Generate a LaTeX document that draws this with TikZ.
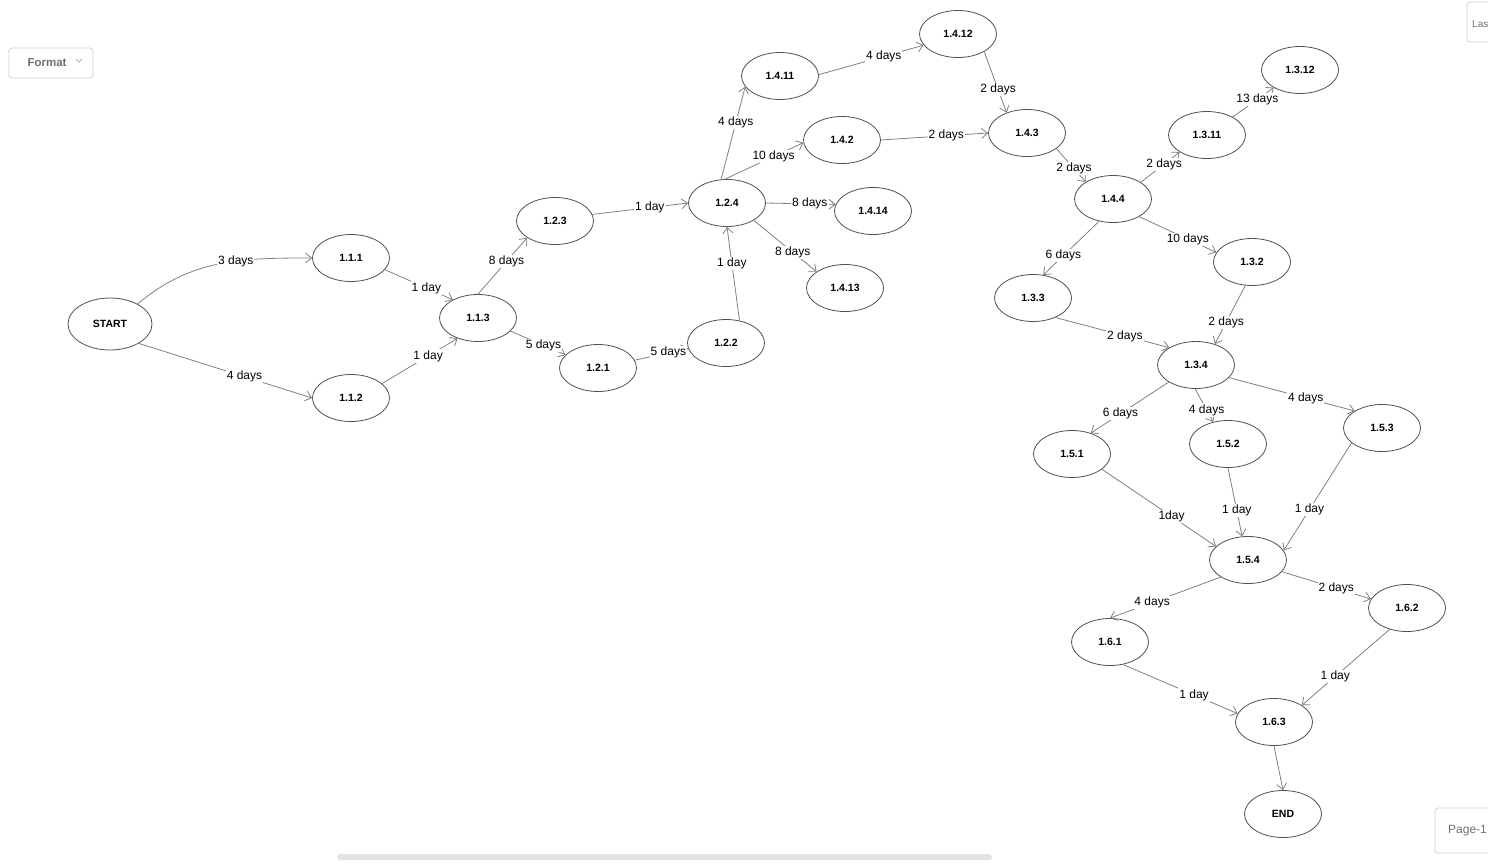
\documentclass[tikz,border=0pt]{standalone}
\usepackage{fontspec}
\setmainfont{Liberation Sans}
\usetikzlibrary{arrows.meta,shapes.geometric}
\definecolor{linkgray}{RGB}{128,128,128}
\definecolor{rimgray}{RGB}{80,80,80}
\definecolor{uigray}{RGB}{208,208,208}
\definecolor{uitext}{RGB}{112,112,112}
\definecolor{barfill}{RGB}{227,227,227}
\tikzset{
  task_/.style = {shape=ellipse, draw=rimgray, fill=white, line width=0.8pt,
                  minimum width=77pt, minimum height=47pt, inner sep=0pt,
                  font=\fontsize{10.5}{12}\selectfont\bfseries},
  term_/.style = {task_, minimum width=84pt, minimum height=52pt},
  link_/.style = {draw=linkgray, line width=0.8pt,
                  -{Straight Barb[length=6pt,width=10pt]}},
  lbl_/.style  = {fill=white, inner sep=1pt, text=black,
                  font=\fontsize{12}{14}\selectfont},
  ui_/.style   = {draw=uigray, fill=white, rounded corners=3pt, line width=0.8pt}
}

\begin{document}
\begin{tikzpicture}
  [
    x = 1pt,
    y = -1pt
  ]
  \useasboundingbox (0,0) rectangle (1488,863);

  \node [ui_, minimum width=84pt, minimum height=30pt] (fmt) at (51,63) {};
  \node [text=uitext, font=\fontsize{11.5}{13}\selectfont\bfseries] (fmttext) at (47,63) {Format};
  \draw [uitext!70, line width=0.7pt] (76,59) -- (79,62) -- (82,59);
  \draw [ui_] (1467,2) rectangle (1500,42);
  \node [anchor=west, inner sep=0pt, text=uitext, font=\fontsize{10}{12}\selectfont] (last) at (1472,24) {Las};
  \draw [ui_] (1435,808) rectangle (1500,853);
  \node [anchor=west, inner sep=0pt, text=uitext, font=\fontsize{12}{14}\selectfont] (page) at (1448,831) {Page-1};
  \fill [barfill, rounded corners=3pt] (337,854) rectangle (992,860);

  \node [term_] (start)  at (110,324)  {START};
  \node [task_] (n111)   at (351,258)  {1.1.1};
  \node [task_] (n112)   at (351,398)  {1.1.2};
  \node [task_] (n113)   at (478,318)  {1.1.3};
  \node [task_] (n123)   at (555,221)  {1.2.3};
  \node [task_] (n121)   at (598,368)  {1.2.1};
  \node [task_] (n122)   at (726,343)  {1.2.2};
  \node [task_] (n124)   at (727,203)  {1.2.4};
  \node [task_] (n1411)  at (780,76)   {1.4.11};
  \node [task_] (n1412)  at (958,34)   {1.4.12};
  \node [task_] (n142)   at (842,140)  {1.4.2};
  \node [task_] (n1414)  at (873,211)  {1.4.14};
  \node [task_] (n1413)  at (845,288)  {1.4.13};
  \node [task_] (n143)   at (1027,133) {1.4.3};
  \node [task_] (n144)   at (1113,199) {1.4.4};
  \node [task_] (n1311)  at (1207,135) {1.3.11};
  \node [task_] (n1312)  at (1300,70)  {1.3.12};
  \node [task_] (n132)   at (1252,262) {1.3.2};
  \node [task_] (n133)   at (1033,298) {1.3.3};
  \node [task_] (n134)   at (1196,365) {1.3.4};
  \node [task_] (n151)   at (1072,454) {1.5.1};
  \node [task_] (n152)   at (1228,444) {1.5.2};
  \node [task_] (n153)   at (1382,428) {1.5.3};
  \node [task_] (n154)   at (1248,560) {1.5.4};
  \node [task_] (n161)   at (1110,642) {1.6.1};
  \node [task_] (n162)   at (1407,608) {1.6.2};
  \node [task_] (n163)   at (1274,722) {1.6.3};
  \node [task_] (finish) at (1283,814) {END};

  \draw [link_] (start.36) to[out=40,in=180] node[lbl_,pos=.6] {3 days} (n111.180);
  \draw [link_] (start.-34) -- node[lbl_,pos=.61] {4 days} (n112.180);
  \draw [link_] (n111.-19) -- node[lbl_,pos=.61] {1 day} (n113.144);
  \draw [link_] (n112.25) -- node[lbl_,pos=.61] {1 day} (n113.-135);
  \draw [link_] (n113.90) -- node[lbl_,pos=.58] {8 days} (n123.-149);
  \draw [link_] (n113.-22) -- node[lbl_,pos=.6] {5 days} (n121.158);
  \draw [link_] (n121.12) -- node[lbl_,pos=.63] {5 days} (n122.-172);
  \draw [link_] (n122.59) -- node[lbl_,pos=.61] {1 day} (n124.-90);
  \draw [link_] (n123.10) -- node[lbl_,pos=.6] {1 day} (n124.180);
  \draw [link_] (n124.104) -- node[lbl_,pos=.61] {4 days} (n1411.-163);
  \draw [link_] (n124.95) -- node[lbl_,pos=.62] {10 days} (n142.-176);
  \draw [link_] (n124.0) -- node[lbl_,pos=.63] {8 days} (n1414.170);
  \draw [link_] (n124.-33) -- node[lbl_,pos=.62] {8 days} (n1413.150);
  \draw [link_] (n1411.2) -- node[lbl_,pos=.62] {4 days} (n1412.-162);
  \draw [link_] (n1412.-34) -- node[lbl_,pos=.62] {2 days} (n143.135);
  \draw [link_] (n142.0) -- node[lbl_,pos=.61] {2 days} (n143.180);
  \draw [link_] (n143.-28) -- node[lbl_,pos=.6] {2 days} (n144.148);
  \draw [link_] (n144.31) -- node[lbl_,pos=.6] {2 days} (n1311.-148);
  \draw [link_] (n1311.35) -- node[lbl_,pos=.6] {13 days} (n1312.-146);
  \draw [link_] (n144.-34) -- node[lbl_,pos=.63] {10 days} (n132.165);
  \draw [link_] (n144.-122) -- node[lbl_,pos=.64] {6 days} (n133.66);
  \draw [link_] (n133.-41) -- node[lbl_,pos=.61] {2 days} (n134.147);
  \draw [link_] (n132.-106) -- node[lbl_,pos=.63] {2 days} (n134.48);
  \draw [link_] (n134.-148) -- node[lbl_,pos=.62] {6 days} (n151.48);
  \draw [link_] (n134.-92) -- node[lbl_,pos=.64] {4 days} (n152.124);
  \draw [link_] (n134.-21) -- node[lbl_,pos=.61] {4 days} (n153.148);
  \draw [link_] (n151.-27) -- node[lbl_,pos=.61] {1day} (n154.157);
  \draw [link_] (n152.-90) -- node[lbl_,pos=.62] {1 day} (n154.104);
  \draw [link_] (n153.-154) -- node[lbl_,pos=.62] {1 day} (n154.15);
  \draw [link_] (n154.-148) -- node[lbl_,pos=.62] {4 days} (n161.90);
  \draw [link_] (n154.-19) -- node[lbl_,pos=.61] {2 days} (n162.166);
  \draw [link_] (n162.-129) -- node[lbl_,pos=.62] {1 day} (n163.31);
  \draw [link_] (n161.-60) -- node[lbl_,pos=.62] {1 day} (n163.167);
  \draw [link_] (n163.-90) -- (finish.90);
\end{tikzpicture}
\end{document}
